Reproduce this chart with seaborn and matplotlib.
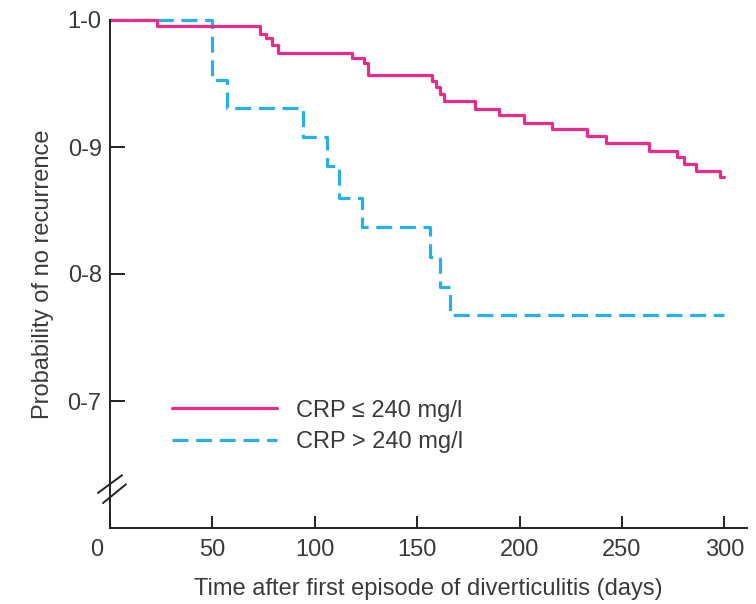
import matplotlib
matplotlib.use("Agg")
import matplotlib.transforms as mtransforms
import pandas as pd
import seaborn as sns
from matplotlib import pyplot as plt


LOW_LABEL = "CRP \u2264 240 mg/l"
HIGH_LABEL = "CRP > 240 mg/l"

# Kaplan-Meier steps (day, probability)
low_days = [0, 23, 73, 76, 79, 82, 118, 124, 126, 157, 159, 161, 163, 178,
            190, 202, 216, 233, 242, 263, 277, 280, 286, 298, 300]
low_surv = [1.0, 0.995, 0.989, 0.986, 0.980, 0.974, 0.970, 0.966, 0.957,
            0.952, 0.947, 0.942, 0.936, 0.930, 0.925, 0.919, 0.914, 0.909,
            0.903, 0.897, 0.892, 0.887, 0.881, 0.876, 0.876]

high_days = [0, 50, 57, 94, 106, 112, 123, 156, 161, 166, 300]
high_surv = [1.0, 0.953, 0.931, 0.908, 0.885, 0.860, 0.837, 0.813, 0.790,
             0.768, 0.768]

x_ticks = [0, 50, 100, 150, 200, 250, 300]
y_ticks = [0.7, 0.8, 0.9, 1.0]
y_tick_labels = ["0-7", "0-8", "0-9", "1-0"]

COLORS = {LOW_LABEL: "#EA2A8C", HIGH_LABEL: "#27B0EA"}
DASHES = {LOW_LABEL: "", HIGH_LABEL: (5, 2.4)}
INK = "#3a3a3a"
FS = 17


def build_frame():
    low = pd.DataFrame({"day": low_days, "surv": low_surv, "group": LOW_LABEL})
    high = pd.DataFrame({"day": high_days, "surv": high_surv, "group": HIGH_LABEL})
    # high group first so the solid line is drawn on top
    return pd.concat([high, low], ignore_index=True)


def main():
    sns.set_theme(style="ticks")
    plt.rcParams["font.family"] = ["Liberation Sans", "DejaVu Sans"]
    plt.rcParams["font.size"] = FS

    fig = plt.figure(figsize=(7.56, 6.04), dpi=100)
    ax = fig.add_axes([110 / 756, 1 - 528 / 604, 637 / 756, 508 / 604])

    df = build_frame()
    sns.lineplot(data=df, x="day", y="surv", hue="group", style="group",
                 palette=COLORS, dashes=DASHES, drawstyle="steps-post",
                 estimator=None, linewidth=2.3, ax=ax,
                 hue_order=[HIGH_LABEL, LOW_LABEL],
                 style_order=[HIGH_LABEL, LOW_LABEL])
    for line in ax.lines:
        line.set_clip_on(False)

    ax.set_xlim(0, 311)
    ax.set_ylim(0.6, 1.0)
    ax.set_xticks(x_ticks)
    ax.set_xticklabels([str(t) for t in x_ticks])
    ax.set_yticks(y_ticks)
    ax.set_yticklabels(y_tick_labels)

    sns.despine(ax=ax)
    for side in ["left", "bottom"]:
        ax.spines[side].set_color("#222222")
        ax.spines[side].set_linewidth(1.4)
    ax.tick_params(axis="x", direction="in", length=9, width=1.4,
                   color="#222222", pad=8, labelsize=FS, labelcolor=INK)
    ax.tick_params(axis="y", direction="in", length=11, width=1.4,
                   color="#222222", pad=6, labelsize=FS, labelcolor=INK)

    # the 0 label sits a little left of the origin in the original
    shift = mtransforms.ScaledTranslation(-13 / 100, 0, fig.dpi_scale_trans)
    zero_label = ax.get_xticklabels()[0]
    zero_label.set_transform(zero_label.get_transform() + shift)

    ax.set_xlabel("Time after first episode of diverticulitis (days)",
                  fontsize=FS, color=INK, labelpad=12)
    ax.set_ylabel("Probability of no recurrence", fontsize=FS, color=INK,
                  labelpad=10)

    # axis break marks
    for (x0, y0, x1, y1) in [(-0.019, 0.069, 0.019, 0.104),
                             (-0.011, 0.049, 0.025, 0.086)]:
        ax.plot([x0, x1], [y0, y1], transform=ax.transAxes, color="#222222",
                lw=1.4, clip_on=False)

    old = ax.get_legend()
    handles = old.legend_handles
    labels = [t.get_text() for t in old.get_texts()]
    order = [labels.index(LOW_LABEL), labels.index(HIGH_LABEL)]
    ax.legend([handles[i] for i in order], [labels[i] for i in order],
              loc="center left", bbox_to_anchor=(0.097, 0.2), frameon=False,
              borderpad=0, borderaxespad=0, handlelength=4.45,
              handletextpad=0.8, labelspacing=0.4, fontsize=FS,
              labelcolor=INK)

    fig.savefig("out.png", dpi=100)


if __name__ == "__main__":
    main()
